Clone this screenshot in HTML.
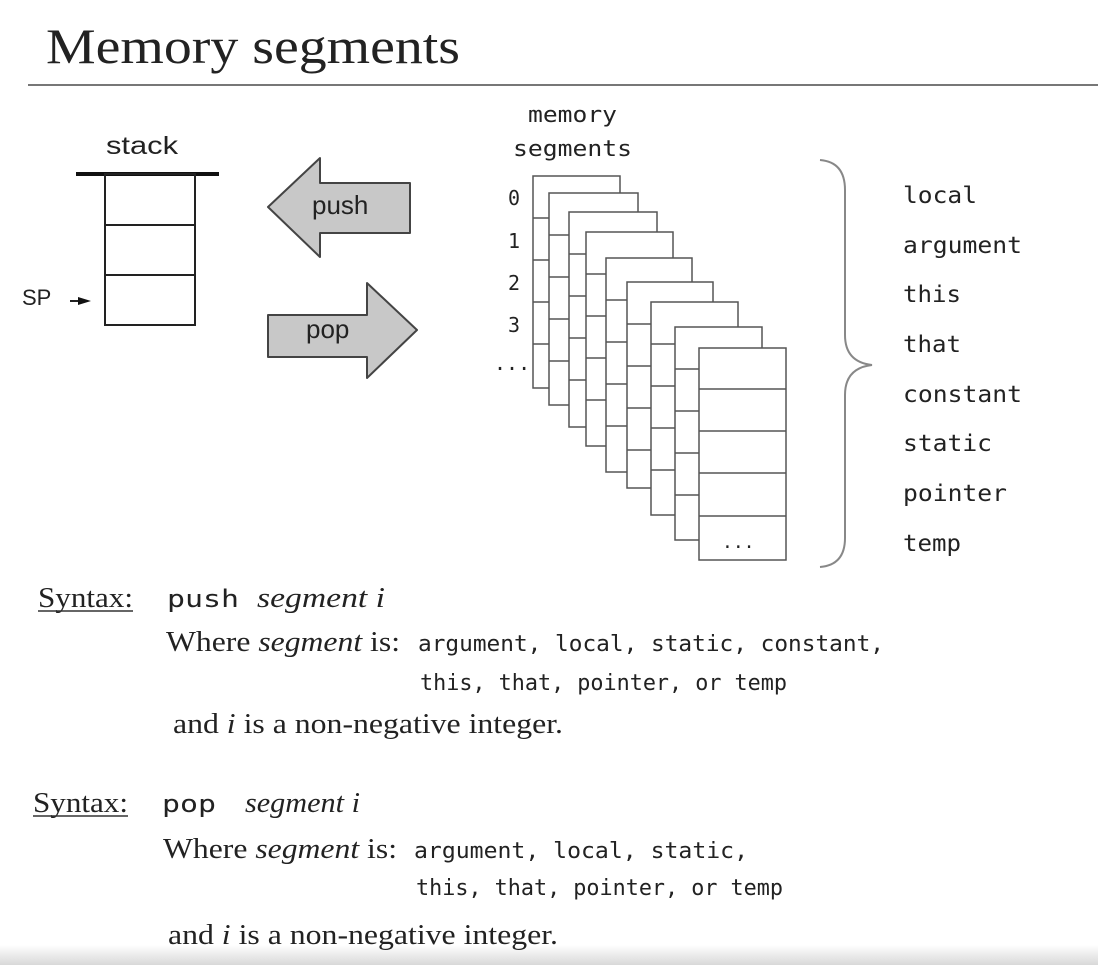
<!DOCTYPE html>
<html><head><meta charset="utf-8"><style>
html,body{margin:0;padding:0;background:#fff;width:1098px;height:965px;overflow:hidden}
svg{display:block}
.m{font-family:"DejaVu Sans Mono","Liberation Mono",monospace;fill:#222}
.s{font-family:"Liberation Serif",serif;fill:#222}
.a{font-family:"Liberation Sans",sans-serif;fill:#222}
</style></head><body>
<svg width="1098" height="965" viewBox="0 0 1098 965" xmlns="http://www.w3.org/2000/svg">
<defs><linearGradient id="g" x1="0" y1="0" x2="0" y2="1"><stop offset="0" stop-color="#fff"/><stop offset="1" stop-color="#d8d8d8"/></linearGradient></defs>
<rect x="0" y="945" width="1098" height="20" fill="url(#g)"/>
<text class="s" x="46" y="63" font-size="50" textLength="414" lengthAdjust="spacingAndGlyphs">Memory segments</text>
<line x1="28" y1="85" x2="1098" y2="85" stroke="#777" stroke-width="2"/>
<!-- stack -->
<text class="a" x="106" y="154" font-size="25" textLength="72" lengthAdjust="spacingAndGlyphs">stack</text>
<line x1="76" y1="174" x2="219" y2="174" stroke="#111" stroke-width="4"/>
<rect x="105" y="174" width="90" height="151" fill="none" stroke="#222" stroke-width="2"/>
<line x1="105" y1="225" x2="195" y2="225" stroke="#222" stroke-width="2"/>
<line x1="105" y1="275" x2="195" y2="275" stroke="#222" stroke-width="2"/>
<text class="a" x="22" y="305" font-size="22">SP</text>
<line x1="70" y1="301" x2="80" y2="301" stroke="#222" stroke-width="2"/>
<polygon points="78,297 91,301 78,305" fill="#111"/>
<!-- arrows -->
<path d="M268,207 L320,158 L320,183 L410,183 L410,233 L320,233 L320,257 Z" fill="#c8c8c8" stroke="#444" stroke-width="2" stroke-linejoin="round"/>
<text class="a" x="312" y="214" font-size="26">push</text>
<path d="M417,330 L367,283 L367,315 L268,315 L268,357 L367,357 L367,378 Z" fill="#c8c8c8" stroke="#444" stroke-width="2" stroke-linejoin="round"/>
<text class="a" x="306" y="338" font-size="26">pop</text>
<!-- memory segments -->
<text class="m" x="528" y="122" font-size="22" textLength="89" lengthAdjust="spacingAndGlyphs">memory</text>
<text class="m" x="513" y="156" font-size="22" textLength="119" lengthAdjust="spacingAndGlyphs">segments</text>
<g class="m" font-size="20"><text x="508" y="205">0</text><text x="508" y="248">1</text><text x="508" y="290">2</text><text x="508" y="332">3</text><text x="494" y="370">...</text></g>
<g fill="#fff" stroke="#555" stroke-width="1.5">
<rect x="533" y="176" width="87" height="212"/><path d="M533,218h87M533,260h87M533,302h87M533,344h87"/>
<rect x="549" y="193" width="89" height="212"/><path d="M549,235h89M549,277h89M549,319h89M549,361h89"/>
<rect x="569" y="212" width="88" height="215"/><path d="M569,254h88M569,296h88M569,338h88M569,380h88"/>
<rect x="586" y="232" width="87" height="214"/><path d="M586,274h87M586,316h87M586,358h87M586,400h87"/>
<rect x="606" y="258" width="86" height="214"/><path d="M606,300h86M606,342h86M606,384h86M606,426h86"/>
<rect x="627" y="282" width="86" height="206"/><path d="M627,324h86M627,366h86M627,408h86M627,450h86"/>
<rect x="651" y="302" width="87" height="213"/><path d="M651,344h87M651,386h87M651,428h87M651,470h87"/>
<rect x="675" y="327" width="87" height="213"/><path d="M675,369h87M675,411h87M675,453h87M675,495h87"/>
<rect x="699" y="348" width="87" height="212"/><path d="M699,389h87M699,431h87M699,473h87M699,516h87"/>
</g>
<text class="m" x="722" y="548" font-size="18">...</text>
<!-- brace -->
<path d="M820,160 Q845,162 845,190 L845,335 Q845,362 872,365 Q845,368 845,395 L845,538 Q845,565 820,567" fill="none" stroke="#888" stroke-width="2"/>
<g class="m" font-size="23">
<text x="903" y="203" textLength="74" lengthAdjust="spacingAndGlyphs">local</text>
<text x="903" y="253" textLength="119" lengthAdjust="spacingAndGlyphs">argument</text>
<text x="903" y="302" textLength="58" lengthAdjust="spacingAndGlyphs">this</text>
<text x="903" y="352" textLength="58" lengthAdjust="spacingAndGlyphs">that</text>
<text x="903" y="402" textLength="119" lengthAdjust="spacingAndGlyphs">constant</text>
<text x="903" y="451" textLength="89" lengthAdjust="spacingAndGlyphs">static</text>
<text x="903" y="501" textLength="104" lengthAdjust="spacingAndGlyphs">pointer</text>
<text x="903" y="551" textLength="58" lengthAdjust="spacingAndGlyphs">temp</text>
</g>
<!-- syntax push -->
<text class="s" x="38" y="607" font-size="29" textLength="95" lengthAdjust="spacingAndGlyphs">Syntax:</text>
<line x1="38" y1="611" x2="133" y2="611" stroke="#333" stroke-width="1.5"/>
<text class="m" x="167" y="607" font-size="24" textLength="72" lengthAdjust="spacingAndGlyphs">push</text>
<text class="s" x="257" y="607" font-size="29" font-style="italic" textLength="128" lengthAdjust="spacingAndGlyphs">segment  i</text>
<text class="s" x="166" y="651" font-size="29" textLength="234" lengthAdjust="spacingAndGlyphs">Where <tspan font-style="italic">segment</tspan> is:</text>
<text class="m" x="418" y="651" font-size="22" textLength="466" lengthAdjust="spacingAndGlyphs">argument, local, static, constant,</text>
<text class="m" x="420" y="690" font-size="22" textLength="367" lengthAdjust="spacingAndGlyphs">this, that, pointer, or temp</text>
<text class="s" x="173" y="733" font-size="29" textLength="390" lengthAdjust="spacingAndGlyphs">and <tspan font-style="italic">i</tspan> is a non-negative integer.</text>
<!-- syntax pop -->
<text class="s" x="33" y="812" font-size="29" textLength="95" lengthAdjust="spacingAndGlyphs">Syntax:</text>
<line x1="33" y1="816" x2="128" y2="816" stroke="#333" stroke-width="1.5"/>
<text class="m" x="162" y="812" font-size="24" textLength="54" lengthAdjust="spacingAndGlyphs">pop</text>
<text class="s" x="245" y="812" font-size="29" font-style="italic" textLength="115" lengthAdjust="spacingAndGlyphs">segment  i</text>
<text class="s" x="163" y="858" font-size="29" textLength="234" lengthAdjust="spacingAndGlyphs">Where <tspan font-style="italic">segment</tspan> is:</text>
<text class="m" x="414" y="858" font-size="22" textLength="334" lengthAdjust="spacingAndGlyphs">argument, local, static,</text>
<text class="m" x="416" y="895" font-size="22" textLength="367" lengthAdjust="spacingAndGlyphs">this, that, pointer, or temp</text>
<text class="s" x="168" y="944" font-size="29" textLength="390" lengthAdjust="spacingAndGlyphs">and <tspan font-style="italic">i</tspan> is a non-negative integer.</text>
</svg>
</body></html>
